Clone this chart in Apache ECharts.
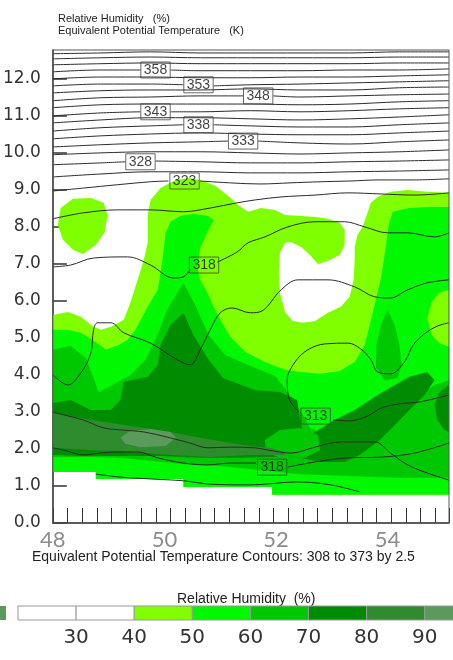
<!DOCTYPE html>
<html><head><meta charset="utf-8">
<script src="https://cdn.jsdelivr.net/npm/echarts@6/dist/echarts.min.js"></script>
<style>html,body{margin:0;padding:0;background:#fff}#chart{width:453px;height:660px}</style>
</head><body><div id="chart"></div>
<script>
// Longitude labels and colour-bar bins
const lonLabels = [48, 50, 52, 54];
const rhBinEdges = [20, 30, 40, 50, 60, 70, 80, 90, 100];
const rhBinColors = ['#ffffff', '#ffffff', '#80ff00', '#00f800', '#00c800', '#008c00', '#2e8b2e', '#5a9a5a'];
const rhTickLabels = [30, 40, 50, 60, 70, 80, 90];

// Relative humidity regions, [lon, height km]; each polygon encloses RH >= level
const rh40_blob = [[48.14,8.51],[48.36,8.76],[48.68,8.78],[48.91,8.65],[48.98,8.32],[48.93,7.86],[48.77,7.51],[48.54,7.27],[48.36,7.38],[48.18,7.65],[48.09,8.05]];
const rh40_main = [[48.00,5.62],[48.27,5.70],[48.50,5.57],[48.73,5.30],[48.86,5.22],[49.04,5.30],[49.27,5.49],[49.39,5.95],[49.52,6.57],[49.63,7.11],[49.70,7.57],[49.70,8.32],[49.75,8.73],[49.93,9.05],[50.20,9.27],[50.43,9.32],[50.64,9.27],[50.91,9.11],[51.14,8.84],[51.32,8.59],[51.50,8.41],[51.73,8.51],[51.98,8.46],[52.16,8.32],[52.39,8.30],[52.70,8.27],[52.93,8.22],[53.14,8.11],[53.23,7.92],[53.23,7.51],[53.14,7.24],[52.93,7.08],[52.75,7.00],[52.61,7.24],[52.45,7.46],[52.27,7.59],[52.16,7.57],[52.07,7.30],[52.05,6.76],[52.07,6.22],[52.16,5.70],[52.30,5.46],[52.48,5.41],[52.70,5.46],[52.93,5.68],[53.16,5.84],[53.32,6.11],[53.39,6.57],[53.41,7.11],[53.41,7.46],[53.46,7.78],[53.55,8.00],[53.64,8.38],[53.70,8.65],[53.82,8.81],[54.05,8.95],[54.36,9.00],[54.71,8.95],[55.10,8.92],[55.10,0.76],[51.93,0.76],[51.93,0.97],[50.34,0.97],[50.34,1.19],[48.77,1.19],[48.77,1.38],[48.00,1.38]];
const rh50_main = [[48.00,5.22],[48.27,5.22],[48.50,5.14],[48.71,4.95],[48.95,4.68],[49.18,4.81],[49.34,4.95],[49.48,5.22],[49.70,5.84],[49.88,6.30],[49.93,6.76],[49.98,7.30],[50.02,7.84],[50.11,8.14],[50.29,8.30],[50.52,8.35],[50.77,8.30],[50.88,8.19],[50.77,7.86],[50.64,7.43],[50.59,6.92],[50.64,6.57],[50.77,6.22],[50.88,5.84],[51.00,5.49],[51.18,5.03],[51.45,4.62],[51.80,4.35],[52.16,4.14],[52.43,4.08],[52.79,4.03],[53.14,4.11],[53.41,4.35],[53.59,4.81],[53.68,5.35],[53.79,6.03],[53.88,6.62],[53.96,7.38],[54.02,8.05],[54.09,8.41],[54.39,8.51],[54.75,8.54],[55.10,8.54],[55.10,6.30],[54.93,6.22],[54.79,5.97],[54.71,5.54],[54.79,5.08],[54.93,4.86],[55.10,4.76],[55.10,0.76],[51.93,0.76],[51.93,0.97],[50.34,0.97],[50.34,1.19],[48.77,1.19],[48.77,1.38],[48.00,1.38]];
const rh60_main = [[48.00,4.68],[48.32,4.78],[48.59,4.46],[48.73,3.92],[48.82,3.54],[49.07,3.73],[49.39,4.00],[49.66,4.41],[49.84,4.95],[50.05,5.76],[50.34,6.49],[50.55,5.89],[50.79,5.08],[51.09,4.54],[51.54,4.24],[51.98,3.97],[52.21,3.54],[52.43,3.05],[52.61,2.57],[53.05,2.30],[53.32,2.38],[53.59,2.65],[53.95,3.05],[54.21,3.32],[54.57,3.46],[54.84,3.73],[55.10,3.86],[55.10,1.22],[54.21,1.22],[53.32,1.27],[52.43,1.32],[51.71,1.43],[51.00,1.54],[50.34,1.59],[49.75,1.68],[49.21,1.76],[48.68,1.78],[48.00,1.78]];
const rh60_tip = [[54.00,5.76],[54.13,5.35],[54.21,4.81],[54.25,4.27],[54.18,3.92],[53.95,3.86],[53.79,4.19],[53.80,4.81],[53.88,5.35]];
const rh70_main = [[48.00,3.24],[48.32,3.32],[48.68,3.05],[49.04,3.05],[49.21,3.32],[49.27,3.81],[49.70,3.95],[49.88,4.27],[49.93,4.81],[50.11,5.35],[50.34,5.68],[50.52,5.08],[50.77,4.46],[51.05,3.92],[51.63,3.59],[52.07,3.54],[52.38,3.32],[52.43,2.78],[52.52,2.24],[52.70,2.46],[53.05,2.78],[53.41,3.05],[53.77,3.41],[54.13,3.73],[54.39,3.95],[54.71,4.08],[54.84,3.86],[54.66,3.46],[54.39,3.05],[54.13,2.65],[53.86,2.24],[53.50,1.84],[53.23,1.65],[52.79,1.65],[52.43,1.76],[51.89,1.78],[51.36,1.76],[50.64,1.76],[49.93,1.81],[49.21,1.81],[48.50,1.81],[48.00,1.84]];
const rh70_edge = [[55.10,3.73],[54.93,3.54],[54.84,3.19],[54.89,2.78],[55.02,2.51],[55.10,2.46]];
const rh60_pocket = [[51.80,2.24],[52.07,2.51],[52.43,2.57],[52.75,2.38],[52.79,1.97],[52.52,1.76],[52.07,1.76],[51.82,1.92]];
const rh80_band = [[48.00,2.97],[48.50,2.84],[49.04,2.70],[49.57,2.59],[50.11,2.46],[50.64,2.30],[51.09,2.19],[51.54,2.08],[51.89,2.03],[52.16,1.92],[52.16,1.84],[51.54,1.84],[50.82,1.78],[50.11,1.84],[49.39,1.92],[48.68,1.97],[48.00,2.03]];
const rh90_patch = [[49.21,2.30],[49.39,2.49],[49.75,2.54],[50.11,2.46],[50.21,2.30],[50.02,2.08],[49.57,2.05],[49.30,2.14]];

const rhRegions = [
  { level: 40, pts: rh40_blob },
  { level: 40, pts: rh40_main },
  { level: 50, pts: rh50_main },
  { level: 60, pts: rh60_main },
  { level: 60, pts: rh60_tip },
  { level: 70, pts: rh70_main },
  { level: 70, pts: rh70_edge },
  { level: 60, pts: rh60_pocket },
  { level: 80, pts: rh80_band },
  { level: 90, pts: rh90_patch }
];

// Equivalent potential temperature contours (K); null breaks a line at its label
const theta365_5 = [[48.00,12.68],[48.86,12.70],[49.75,12.73],[50.64,12.70],[51.54,12.70],[52.43,12.70],[53.32,12.70],[54.21,12.73],[55.10,12.73]];
const theta363 = [[48.00,12.54],[48.86,12.57],[49.75,12.59],[50.64,12.57],[51.54,12.57],[52.43,12.57],[53.32,12.57],[54.21,12.59],[55.10,12.59]];
const theta360_5 = [[48.00,12.38],[48.86,12.41],[49.75,12.43],[50.64,12.41],[51.54,12.41],[52.43,12.41],[53.32,12.41],[54.21,12.43],[55.10,12.43]];
const theta358 = [[48.00,12.19],[48.86,12.24],[49.57,12.24],null,[50.11,12.24],[50.64,12.22],[51.54,12.22],[52.43,12.22],[53.32,12.24],[54.21,12.24],[55.10,12.27]];
const theta355_5 = [[48.00,12.00],[48.86,12.05],[49.75,12.05],[50.64,12.03],[51.54,12.03],[52.43,12.05],[53.32,12.05],[54.21,12.08],[55.10,12.11]];
const theta353 = [[48.00,11.81],[48.86,11.86],[49.75,11.86],[50.34,11.84],null,[50.88,11.81],[51.54,11.84],[52.43,11.86],[53.32,11.89],[54.21,11.92],[55.10,11.95]];
const theta350_5 = [[48.00,11.62],[48.86,11.68],[49.75,11.70],[50.64,11.70],[51.54,11.73],[52.43,11.70],[53.32,11.70],[54.21,11.76],[55.10,11.78]];
const theta348 = [[48.00,11.41],[48.86,11.49],[49.75,11.51],[50.64,11.54],[51.41,11.54],null,[51.95,11.54],[52.43,11.51],[53.32,11.54],[54.21,11.57],[55.10,11.59]];
const theta345_5 = [[48.00,11.22],[48.86,11.30],[49.75,11.32],[50.64,11.32],[51.54,11.32],[52.43,11.30],[53.32,11.32],[54.21,11.38],[55.10,11.41]];
const theta343 = [[48.00,11.00],[48.86,11.08],[49.57,11.11],null,[50.11,11.11],[50.64,11.11],[51.54,11.14],[52.43,11.11],[53.32,11.14],[54.21,11.19],[55.10,11.22]];
const theta340_5 = [[48.00,10.81],[48.86,10.89],[49.75,10.95],[50.64,10.95],[51.54,10.92],[52.43,10.89],[53.32,10.92],[54.21,10.97],[55.10,11.03]];
const theta338 = [[48.00,10.59],[48.86,10.68],[49.75,10.73],[50.34,10.76],null,[50.88,10.76],[51.54,10.73],[52.43,10.70],[53.32,10.70],[54.21,10.76],[55.10,10.81]];
const theta335_5 = [[48.00,10.38],[48.86,10.46],[49.75,10.51],[50.64,10.54],[51.54,10.51],[52.43,10.49],[53.32,10.49],[54.21,10.54],[55.10,10.59]];
const theta333 = [[48.00,10.16],[48.86,10.22],[49.75,10.27],[50.64,10.30],[51.14,10.32],null,[51.68,10.32],[52.43,10.27],[53.32,10.24],[54.21,10.30],[55.10,10.35]];
const theta330_5 = [[48.00,9.95],[48.86,10.00],[49.75,10.03],[50.64,10.03],[51.54,10.00],[52.43,9.97],[53.32,10.00],[54.21,10.03],[55.10,10.08]];
const theta328 = [[48.00,9.68],[48.86,9.73],[49.30,9.76],null,[49.84,9.78],[50.64,9.76],[51.54,9.73],[52.43,9.73],[53.32,9.76],[54.21,9.78],[55.10,9.81]];
const theta325_5 = [[48.00,9.35],[48.86,9.43],[49.75,9.49],[50.64,9.49],[51.54,9.46],[52.43,9.46],[53.32,9.49],[54.21,9.51],[55.10,9.54]];
const theta323 = [[48.00,8.97],[48.55,9.05],[49.16,9.14],[49.75,9.22],[50.07,9.24],null,[50.64,9.24],[51.18,9.19],[51.71,9.16],[52.25,9.19],[52.79,9.22],[53.32,9.24],[53.86,9.27],[54.48,9.27],[55.10,9.30]];
const theta320_5 = [[48.00,8.22],[48.55,8.38],[49.16,8.46],[49.75,8.46],[50.34,8.41],[50.82,8.51],[51.30,8.65],[51.63,8.73],[52.09,8.81],[52.70,8.86],[53.29,8.92],[53.88,8.89],[54.48,8.86],[55.10,8.92]];
const theta318_upper = [[48.00,6.92],[48.32,6.97],[48.73,7.16],[49.34,7.19],[49.75,6.97],[50.16,6.62],[50.34,6.65],[50.46,6.84],null,[50.95,7.05],[51.30,7.32],[51.50,7.57],[51.80,7.73],[52.21,8.00],[52.70,8.14],[53.23,8.14],[53.59,8.00],[54.00,7.84],[54.36,7.84],[54.84,7.73],[55.10,7.84]];
const theta315_5_upper = [[48.00,4.00],[48.27,3.73],[48.50,4.05],[48.68,4.59],[48.73,5.22],[48.80,5.41],[49.04,5.41],[49.27,5.14],[49.75,4.86],[50.23,4.41],[50.46,4.27],[50.64,4.68],[50.82,5.22],[51.00,5.68],[51.21,5.81],[51.54,5.68],[51.75,5.73],[52.09,6.30],[52.39,6.57],[52.93,6.57],[53.41,6.38],[53.77,6.11],[54.05,6.08],[54.36,6.30],[54.71,6.49],[55.10,6.57]];
const theta313 = [[55.10,5.41],[54.89,5.32],[54.66,5.11],[54.46,4.81],[54.30,4.35],[54.05,4.03],[53.82,4.08],[53.70,4.41],[53.52,4.70],[53.29,4.86],[52.88,4.84],[52.57,4.68],[52.34,4.35],[52.20,3.86],[52.23,3.38],[52.41,3.00],null,[53.02,2.78],[53.32,2.76],[53.64,2.89],[53.89,3.11],[54.21,3.22],[54.57,3.27],[55.10,3.46]];
const theta315_5_lower = [[48.00,3.00],[48.20,2.92],[48.55,2.78],[48.91,2.57],[49.27,2.51],[49.63,2.46],[50.05,2.32],[50.46,2.16],[50.77,2.03],[51.18,2.05],[51.63,2.03],[51.86,1.97],[52.27,1.89],[52.70,2.05],[53.16,2.19],[53.77,2.19],[54.05,1.89],[54.36,1.57],[54.71,1.35],[55.10,1.16]];
const theta318_lower = [[48.00,2.03],[48.20,1.97],[48.55,1.84],[48.86,1.89],[49.16,1.92],[49.52,1.92],[49.88,1.76],[50.34,1.62],[50.77,1.57],[51.18,1.62],[51.64,1.62],null,[52.21,1.51],[52.70,1.65],[53.29,1.76],[53.88,1.78],[54.48,1.89],[55.10,2.16]];
const theta320_5_lower = [[48.77,1.32],[49.21,1.24],[49.75,1.19],[50.34,1.14],[50.82,1.05],[51.54,1.03],[52.39,1.11],[52.98,1.03],[53.50,0.84]];

const thetaLines = [theta365_5, theta363, theta360_5, theta358, theta355_5, theta353, theta350_5, theta348,
  theta345_5, theta343, theta340_5, theta338, theta335_5, theta333, theta330_5, theta328, theta325_5, theta323,
  theta320_5, theta318_upper, theta315_5_upper, theta313, theta315_5_lower, theta318_lower, theta320_5_lower];

// Contour labels: [lon, height, value]
const thetaLabels = [[49.84,12.24,358],[50.61,11.84,353],[51.68,11.54,348],[49.84,11.11,343],[50.61,10.76,338],
  [51.41,10.32,333],[49.57,9.76,328],[50.36,9.24,323],[50.71,6.97,318],[52.71,2.89,313],[51.93,1.51,318]];

// ---------------------------------------------------------------
const levelColor = lv => rhBinColors[rhBinEdges.indexOf(lv)];

function splitSegments(line) {
  const segs = []; let cur = [];
  line.forEach(p => { if (p === null) { if (cur.length) segs.push(cur); cur = []; } else cur.push(p); });
  if (cur.length) segs.push(cur);
  return segs;
}

const lineSeries = [];
thetaLines.forEach(line => splitSegments(line).forEach(seg => lineSeries.push({
  type: 'line', xAxisIndex: 0, yAxisIndex: 0, data: seg, smooth: 0.35, symbol: 'none',
  lineStyle: { color: '#2b2b2b', width: 1 }, silent: true, z: 5, clip: true
})));

const chart = echarts.init(document.getElementById('chart'), null, { renderer: 'canvas' });
chart.setOption({
  animation: false,
  backgroundColor: '#ffffff',
  title: {
    text: 'Relative Humidity   (%)\nEquivalent Potential Temperature   (K)',
    left: 53, top: 8,
    textStyle: { fontFamily: 'Liberation Sans', fontSize: 11, fontWeight: 'normal', color: '#222', lineHeight: 12 }
  },
  grid: [
    { left: 52, top: 50, width: 397, height: 473, show: true, borderColor: '#555', borderWidth: 1, backgroundColor: 'transparent', z: 10 },
    { left: 18, top: 606, width: 435, height: 14 }
  ],
  xAxis: [
    { type: 'value', gridIndex: 0, position: 'bottom', min: 48, max: 55.1,
      axisLine: { show: true, onZero: false, lineStyle: { color: '#333', width: 1.5 } },
      axisTick: { show: false }, splitLine: { show: false },
      axisLabel: { customValues: lonLabels, formatter: v => String(v), fontFamily: 'Lato', fontSize: 22, color: '#8c8c8c', margin: 6 } },
    { type: 'value', gridIndex: 0, position: 'bottom', min: 48, max: 54.73, interval: 0.25,
      axisLine: { show: false }, splitLine: { show: false }, axisLabel: { show: false },
      axisTick: { show: true, inside: true, length: 15, lineStyle: { color: '#333', width: 1 } } },
    { type: 'value', gridIndex: 1, min: 20, max: 94.87, interval: 10,
      axisLine: { show: false }, axisTick: { show: false }, splitLine: { show: false },
      axisLabel: { customValues: rhTickLabels, fontFamily: 'DejaVu Sans', fontSize: 20, color: '#333', margin: 8 } }
  ],
  yAxis: [
    { type: 'value', gridIndex: 0, min: 0, max: 12.78, interval: 1,
      axisLine: { show: true, lineStyle: { color: '#333', width: 1.5 } },
      axisTick: { show: true, inside: true, length: 14, lineStyle: { color: '#333', width: 1.5 } },
      splitLine: { show: false },
      axisLabel: { formatter: v => v.toFixed(1), showMaxLabel: false, fontFamily: 'DejaVu Sans', fontSize: 17, color: '#333', margin: 12 } },
    { type: 'value', gridIndex: 1, min: 0, max: 1, show: false }
  ],
  graphic: [
    { type: 'text', left: 32, top: 550, style: { text: 'Equivalent Potential Temperature Contours: 308 to 373 by 2.5', fontFamily: 'Liberation Sans', fontSize: 14, fill: '#222' } },
    { type: 'text', left: 177, top: 592, style: { text: 'Relative Humidity  (%)', fontFamily: 'Liberation Sans', fontSize: 14, fill: '#222' } },
    { type: 'rect', shape: { x: 0, y: 606, width: 6, height: 14 }, style: { fill: '#5a9a5a' } }
  ],
  series: [
    { type: 'custom', xAxisIndex: 0, yAxisIndex: 0, clip: true, silent: true, z: 1,
      data: rhRegions.map((r, i) => [i]),
      renderItem: (params, api) => {
        const r = rhRegions[params.dataIndex];
        return { type: 'polygon', shape: { points: r.pts.map(p => api.coord(p)) }, style: { fill: levelColor(r.level) } };
      } },
    ...lineSeries,
    { type: 'scatter', xAxisIndex: 0, yAxisIndex: 0, symbolSize: 0, silent: true, z: 6,
      data: thetaLabels.map(l => [l[0], l[1], l[2]]),
      label: { show: true, position: 'inside', formatter: p => String(p.value[2]), fontFamily: 'Liberation Sans', fontSize: 14, color: '#111',
        borderColor: '#444', borderWidth: 1, padding: [2, 3, 0, 3] } },
    { type: 'custom', xAxisIndex: 2, yAxisIndex: 1, silent: true,
      data: rhBinColors.map((c, i) => [rhBinEdges[i], rhBinEdges[i + 1], i]),
      renderItem: (params, api) => {
        const a = api.coord([api.value(0), 1]);
        const b = api.coord([api.value(1), 0]);
        return { type: 'rect', shape: { x: a[0], y: a[1], width: b[0] - a[0], height: b[1] - a[1] },
          style: { fill: rhBinColors[api.value(2)], stroke: '#999', lineWidth: 1 } };
      } }
  ]
});
</script></body></html>
